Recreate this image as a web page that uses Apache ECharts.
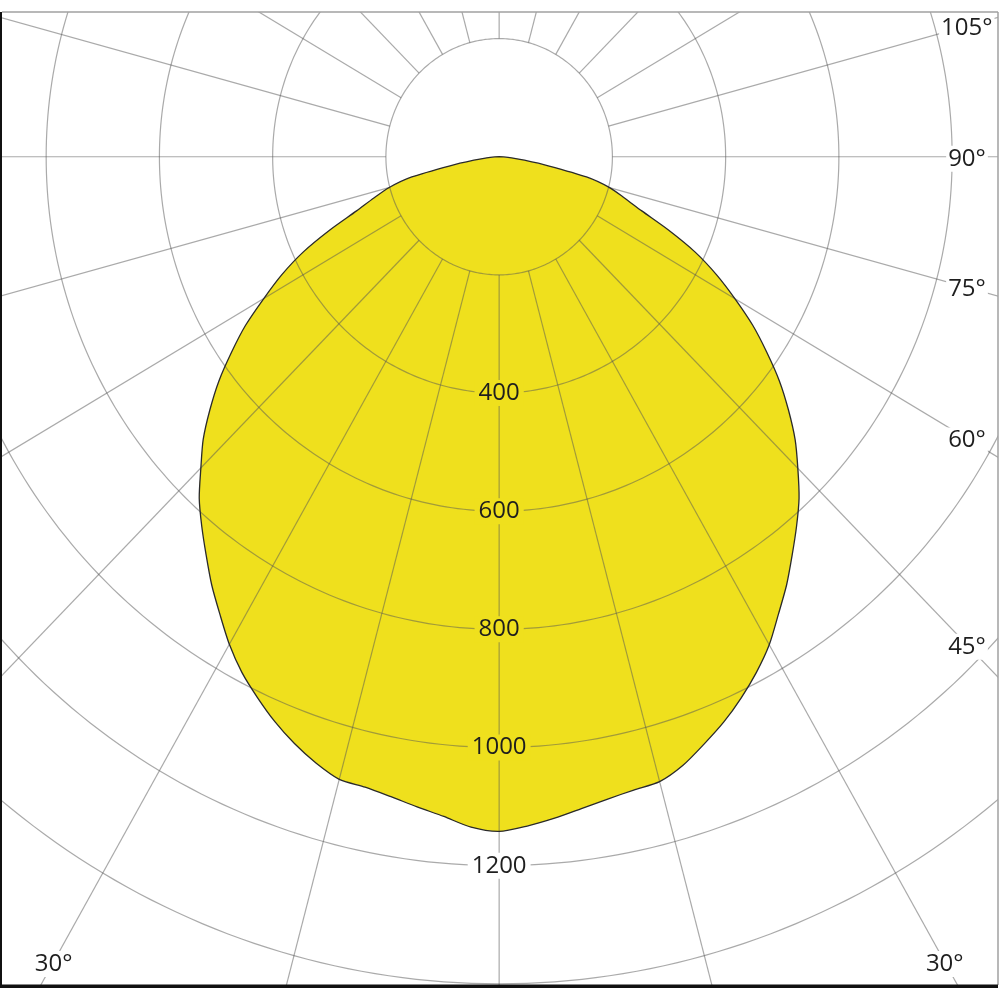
<!DOCTYPE html>
<html><head><meta charset="utf-8">
<script src="https://cdn.jsdelivr.net/npm/echarts@6/dist/echarts.min.js"></script>
<style>html,body{margin:0;padding:0;background:#fff}#c{width:1000px;height:1000px}</style>
</head><body><div id="c"></div>
<script>
// Photometric curve (C0-C180 plane), angle measured from nadir (deg), intensity in cd
const curveAngles = [-90,-87.5,-85,-82.5,-80,-77.5,-75,-72.5,-70,-67.5,-65,-62.5,-60,-57.5,-55,-52.5,-50,-47.5,-45,-42.5,-40,-37.5,-35,-32.5,-30,-27.5,-25,-22.5,-20,-17.5,-15,-12.5,-10,-7.5,-5,-2.5,
  0,2.5,5,7.5,10,12.5,15,17.5,20,22.5,25,27.5,30,32.5,35,37.5,40,42.5,45,47.5,50,52.5,55,57.5,60,62.5,65,67.5,70,72.5,75,77.5,80,82.5,85,87.5,90];
const curveValues = [0,8,22,45,88,158,201,232,268,323,382,433,480,531,577,624,667,709,745,784,817,850,885,918,953,984,1010,1035,1057,1076,1091,1093,1100,1110,1121,1136,
  1142,1134,1124,1113,1104,1098,1095,1080,1058,1036,1011,984,954,918,885,850,817,784,746,709,667,624,577,531,481,433,382,323,268,232,202,158,88,45,22,8,0];
// grid rings and spokes
const circleRadii = [200,400,600,800,1000,1200,1400];
const spokeAngles = [0,15,30,45,60,75,90,105,120,135,150,165,180,195,210,225,240,255,270,285,300,315,330,345];
// tick labels
const radialLabels = [400,600,800,1000,1200];
const angleLabels = [30,45,60,75,90,105,-30];

const innerRadius = 200;
const spokeOuter = 4000;
const fillColor = '#efe01d';
const gridColor = 'rgba(85,85,85,0.5)';
const textColor = '#1e1e1e';
const fontFamily = '"Open Sans", "Noto Sans", sans-serif';
const curveSmooth = 0.25;

function toXY(r, deg){ const a = deg*Math.PI/180; return [r*Math.sin(a), -r*Math.cos(a)]; }
const curveAt0 = curveValues[curveAngles.indexOf(0)];

const G = {left:2, top:12, right:2, bottom:15};
const chart = echarts.init(document.getElementById('c'), null, {renderer:'canvas'});

function curvePoints(api){
  return curveAngles.slice(0,-1).map((a,i)=>api.coord(toXY(curveValues[i], a)));
}

const option = {
  backgroundColor:'#fff',
  animation:false,
  grid:{left:G.left, top:G.top, right:G.right, bottom:G.bottom, show:false},
  xAxis:{type:'value', min:-878, max:881, show:false},
  yAxis:{type:'value', min:-1402, max:245, show:false},
  graphic:[
    {type:'line', silent:true, z:100, shape:{x1:G.left, y1:G.top, x2:1000-G.right, y2:G.top}, style:{stroke:'#a0a0a0', lineWidth:1.5}},
    {type:'line', silent:true, z:100, shape:{x1:1000-G.right, y1:G.top, x2:1000-G.right, y2:1000-G.bottom}, style:{stroke:'#a0a0a0', lineWidth:1.5}},
    {type:'rect', silent:true, z:100, shape:{x:0, y:G.top, width:2, height:1000-G.bottom-G.top+3}, style:{fill:'#111'}},
    {type:'rect', silent:true, z:100, shape:{x:0, y:1000-G.bottom-0.5, width:1000-G.right, height:3.5}, style:{fill:'#111'}}
  ],
  series:[
    { // filled curve
      type:'custom', coordinateSystem:'cartesian2d', clip:true, silent:true, z:1,
      data:[[0,0]],
      renderItem:function(params, api){
        return {type:'polygon', shape:{points:curvePoints(api), smooth:curveSmooth}, style:{fill:fillColor, stroke:null}};
      }
    },
    { // rings
      type:'custom', coordinateSystem:'cartesian2d', clip:true, silent:true, z:2,
      data:circleRadii.map(r=>[r,0]),
      renderItem:function(params, api){
        const r = api.value(0); const pts=[];
        for(let d=0; d<=360; d+=1) pts.push(api.coord(toXY(r,d)));
        return {type:'polyline', shape:{points:pts}, style:{stroke:gridColor, lineWidth:1.2, fill:null}};
      }
    },
    { // spokes
      type:'custom', coordinateSystem:'cartesian2d', clip:true, silent:true, z:2,
      data:spokeAngles.map(a=>[a,0]),
      renderItem:function(params, api){
        const a = api.value(0);
        const p0 = api.coord(toXY(innerRadius,a)), p1 = api.coord(toXY(spokeOuter,a));
        return {type:'line', shape:{x1:p0[0],y1:p0[1],x2:p1[0],y2:p1[1]}, style:{stroke:gridColor, lineWidth:1.2}};
      }
    },
    { // curve outline
      type:'custom', coordinateSystem:'cartesian2d', clip:true, silent:true, z:3,
      data:[[0,0]],
      renderItem:function(params, api){
        return {type:'polygon', shape:{points:curvePoints(api), smooth:curveSmooth}, style:{fill:null, stroke:'#2a2a2a', lineWidth:1.3}};
      }
    },
    { // radial tick labels
      type:'custom', coordinateSystem:'cartesian2d', clip:false, silent:true, z:4,
      data:radialLabels.map(r=>[r,0]),
      renderItem:function(params, api){
        const r = api.value(0); const p = api.coord(toXY(r,0));
        return {type:'text', x:p[0], y:p[1], style:{text:String(r), align:'center', verticalAlign:'middle',
          font:'24px '+fontFamily, fill:textColor, backgroundColor:(r<curveAt0?fillColor:'#fff'), padding:[1,4]}};
      }
    },
    { // angle labels at frame edge
      type:'custom', coordinateSystem:'cartesian2d', clip:false, silent:true, z:4,
      data:angleLabels.map(a=>[a,0]),
      renderItem:function(params, api){
        const a = api.value(0);
        const c = api.coord([0,0]); const q = api.coord(toXY(1000,a));
        const dx=q[0]-c[0], dy=q[1]-c[1];
        const cs = params.coordSys;
        const xMin = cs.x+29, xMax = cs.x+cs.width-31, yMin = cs.y+14, yMax = cs.y+cs.height-23;
        let t = Infinity;
        if(dx>0) t=Math.min(t,(xMax-c[0])/dx);
        if(dx<0) t=Math.min(t,(xMin-c[0])/dx);
        if(dy>0) t=Math.min(t,(yMax-c[1])/dy);
        if(dy<0) t=Math.min(t,(yMin-c[1])/dy);
        return {type:'text', x:c[0]+dx*t, y:c[1]+dy*t+2, style:{text:Math.abs(a)+'°', align:'center', verticalAlign:'middle',
          font:'24px '+fontFamily, fill:textColor, backgroundColor:'#fff', padding:[1,2]}};
      }
    }
  ]
};
chart.setOption(option);
</script></body></html>
